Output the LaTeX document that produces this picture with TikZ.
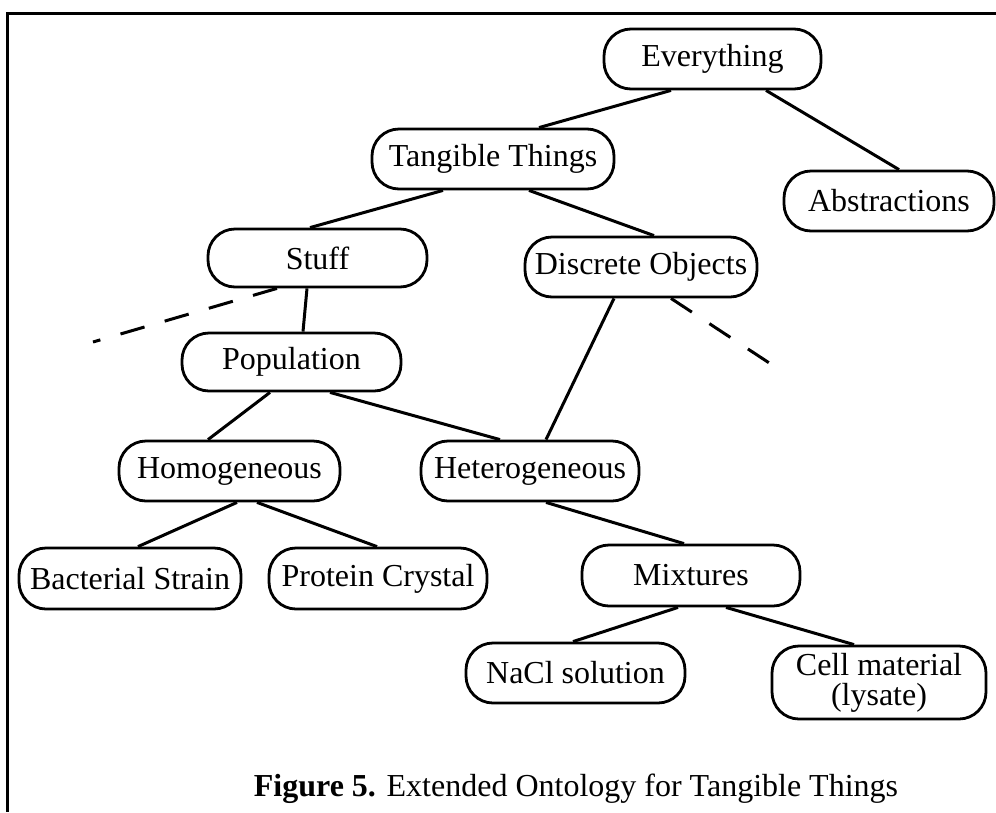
\documentclass[tikz,border=0pt]{standalone}
\usepackage{fontspec}
\setmainfont{Liberation Serif}
\begin{document}
\begin{tikzpicture}[x=1pt,y=-1pt,
  concept/.style={draw, line width=2.8pt, rounded corners=27pt, inner sep=0pt,
    font=\fontsize{32}{30}\selectfont, align=center},
  link/.style={line width=3pt},
  open link/.style={line width=3pt, dash pattern=on 25pt off 21pt}]
\useasboundingbox (0,0) rectangle (996,812);
% frame: top and left rules
\draw[line width=3pt] (996,13) -- (7,13) -- (7,812);

% concepts
\node[concept, minimum width=217pt, minimum height=60pt] (ev) at (712.5,59) {Everything};
\node[concept, minimum width=242pt, minimum height=60pt] (tt) at (493,159) {Tangible Things};
\node[concept, minimum width=210pt, minimum height=60pt] (ab) at (889,201) {Abstractions};
\node[concept, minimum width=219pt, minimum height=58pt] (st) at (317.5,258) {Stuff};
\node[concept, minimum width=232pt, minimum height=60pt] (do) at (641,267) {Discrete Objects};
\node[concept, minimum width=219pt, minimum height=58pt] (po) at (291.5,362) {Population};
\node[concept, minimum width=221pt, minimum height=60pt] (ho) at (229.5,471) {Homogeneous};
\node[concept, minimum width=218pt, minimum height=60pt] (he) at (530,471) {Heterogeneous};
\node[concept, minimum width=222pt, minimum height=61pt] (bs) at (130,578.5) {Bacterial Strain};
\node[concept, minimum width=218pt, minimum height=61pt] (pc) at (378,578.5) {Protein Crystal};
\node[concept, minimum width=218pt, minimum height=61pt] (mx) at (691,575.5) {Mixtures};
\node[concept, minimum width=219pt, minimum height=60pt] (na) at (575.5,673) {NaCl solution};
\node[concept, minimum width=214pt, minimum height=73pt] (ce) at (879,682.5) {Cell material\\(lysate)};

% loose ends of the open branches
\coordinate (stx) at (93,342);
\coordinate (dox) at (783,372);

% hierarchy links
\draw[link] ([xshift=-41.5pt]ev.south) -- ([xshift=46pt]tt.north);
\draw[link] ([xshift=53.5pt]ev.south) -- ([xshift=10pt]ab.north);
\draw[link] ([xshift=-50pt]tt.south) -- ([xshift=-7.5pt]st.north);
\draw[link] ([xshift=36pt]tt.south) -- ([xshift=13pt]do.north);
\draw[link] ([xshift=-10.5pt]st.south) -- ([xshift=11.5pt]po.north);
\draw[open link] ([xshift=-40.5pt]st.south) -- (stx);
\draw[link] ([xshift=-27pt]do.south) -- ([xshift=16pt]he.north);
\draw[open link] ([xshift=30pt]do.south) -- (dox);
\draw[link] ([xshift=-21.5pt]po.south) -- ([xshift=-21.5pt]ho.north);
\draw[link] ([xshift=38.5pt]po.south) -- ([xshift=-30pt]he.north);
\draw[link] ([xshift=7.5pt]ho.south) -- ([xshift=8pt]bs.north);
\draw[link] ([xshift=27.5pt]ho.south) -- ([xshift=-1pt]pc.north);
\draw[link] ([xshift=16pt]he.south) -- ([xshift=-7pt]mx.north);
\draw[link] ([xshift=-13pt]mx.south) -- ([xshift=-2.5pt]na.north);
\draw[link] ([xshift=35pt]mx.south) -- ([xshift=-25pt]ce.north);

% caption
\node[font=\fontsize{32}{36}\selectfont, inner sep=0pt] (cap) at (576,789)
  {\textbf{Figure 5.} Extended Ontology for Tangible Things};
\end{tikzpicture}
\end{document}
